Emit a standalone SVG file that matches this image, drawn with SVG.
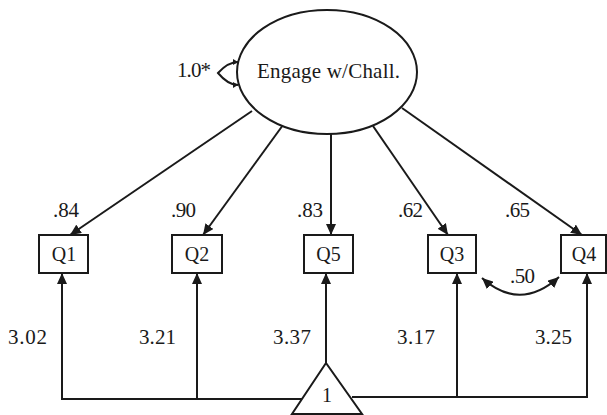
<svg xmlns="http://www.w3.org/2000/svg" width="607" height="415" viewBox="0 0 607 415">
<style>
.ln{stroke:#1a1a1a;stroke-width:2;fill:none}
.bx{stroke:#1a1a1a;stroke-width:2;fill:#fff}
.t{font-family:"Liberation Serif","Times New Roman",serif;fill:#1a1a1a}
.n{font-size:21px}
.q{font-size:20px;text-anchor:middle}
</style>
<defs>
<marker id="ah" markerUnits="userSpaceOnUse" markerWidth="12" markerHeight="10" refX="11" refY="5" orient="auto-start-reverse">
<path d="M0,0 L11,5 L0,10 z" fill="#1a1a1a"/>
</marker>
<marker id="sh" markerUnits="userSpaceOnUse" markerWidth="6" markerHeight="6" refX="5" refY="3" orient="auto-start-reverse">
<path d="M0,0 L5,3 L0,6 z" fill="#1a1a1a"/>
</marker>
</defs>
<rect width="607" height="415" fill="#fff"/>
<g id="connectors">
<path class="ln" d="M252,111 L70,235" marker-end="url(#ah)"/>
<path class="ln" d="M283,125 L203,235" marker-end="url(#ah)"/>
<path class="ln" d="M331,134 L331,235" marker-end="url(#ah)"/>
<path class="ln" d="M373,126 L448,235" marker-end="url(#ah)"/>
<path class="ln" d="M402,108 L582,235" marker-end="url(#ah)"/>
<path class="ln" d="M238,62 Q228,62 218,73 Q228,85 238,85" marker-start="url(#sh)" marker-end="url(#sh)"/>
<path class="ln" d="M482,278 Q520,312 559,277" marker-start="url(#ah)" marker-end="url(#ah)"/>
<path class="ln" d="M303,399 L62,399 L62,273" marker-end="url(#ah)"/>
<path class="ln" d="M197,399 L197,273" marker-end="url(#ah)"/>
<path class="ln" d="M326,363 L326,273" marker-end="url(#ah)"/>
<path class="ln" d="M352,397 L587,397 L587,273" marker-end="url(#ah)"/>
<path class="ln" d="M457,397 L457,273" marker-end="url(#ah)"/>
<text class="t n" x="177" y="77" textLength="34">1.0*</text>
<text class="t n" x="53" y="217" textLength="26">.84</text>
<text class="t n" x="171" y="217" textLength="25">.90</text>
<text class="t n" x="297" y="217" textLength="26">.83</text>
<text class="t n" x="398" y="217" textLength="25">.62</text>
<text class="t n" x="505" y="217" textLength="25">.65</text>
<text class="t n" x="510" y="283" textLength="25">.50</text>
<text class="t n" x="8" y="344" textLength="39">3.02</text>
<text class="t n" x="139" y="344" textLength="37">3.21</text>
<text class="t n" x="273" y="344" textLength="38">3.37</text>
<text class="t n" x="397" y="344" textLength="38">3.17</text>
<text class="t n" x="535" y="344" textLength="37">3.25</text>
</g>
<g id="engage">
<ellipse class="bx" cx="327" cy="72" rx="90" ry="62"/>
<text class="t" x="257" y="78" font-size="21" textLength="143">Engage w/Chall.</text>
</g>
<g id="Q1"><rect class="bx" x="39" y="235" width="49" height="38"/><text class="t q" x="64" y="261">Q1</text></g>
<g id="Q2"><rect class="bx" x="172" y="235" width="50" height="38"/><text class="t q" x="197" y="261">Q2</text></g>
<g id="Q5"><rect class="bx" x="304" y="235" width="49" height="38"/><text class="t q" x="328.5" y="261">Q5</text></g>
<g id="Q3"><rect class="bx" x="428" y="235" width="48" height="38"/><text class="t q" x="452" y="261">Q3</text></g>
<g id="Q4"><rect class="bx" x="561" y="235" width="45" height="38"/><text class="t q" x="584" y="261">Q4</text></g>
<g id="one">
<path class="bx" d="M326,363 L292,414 L362,414 Z"/>
<text class="t q" x="327" y="402">1</text>
</g>
</svg>
